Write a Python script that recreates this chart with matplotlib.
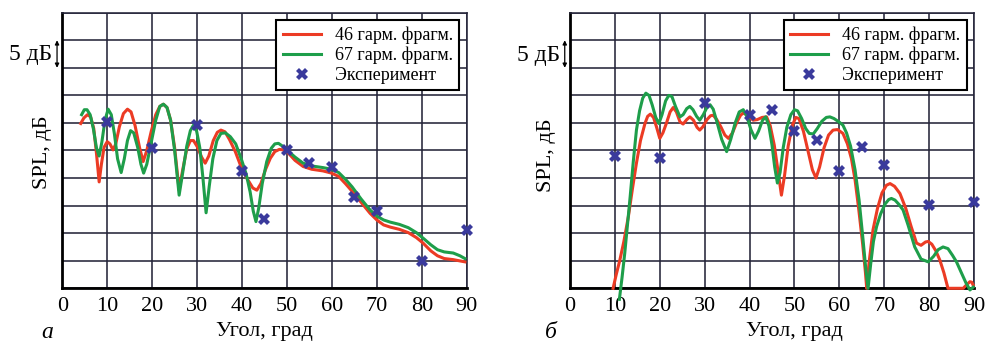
import matplotlib
matplotlib.use("Agg")
import matplotlib.pyplot as plt

# ---------------- data (angle in degrees, SPL in dB relative to bottom of grid) -------------
a_red_x = [4.1, 4.8, 5.6, 6.3, 7.0, 7.6, 8.2, 8.7, 9.3, 10.0, 10.6, 11.3, 11.9, 12.7, 13.6, 14.5,
           15.3, 16.2, 17.2, 18.0, 18.8, 19.8, 20.8, 21.7, 22.5, 23.3, 24.1, 25.0, 26.0, 26.8,
           27.7, 28.5, 29.2, 30.1, 31.0, 31.8, 32.6, 33.6, 34.5, 35.3, 36.2, 37.2, 38.5, 39.9,
           41.2, 42.4, 43.3, 44.2, 45.2, 46.3, 47.3, 48.3, 49.3, 50.0, 51.8, 53.6, 55.5, 58.0,
           59.9, 61.5, 63.0, 64.5, 66.5, 68.5, 70.0, 71.5, 73.0, 75.0, 77.0, 78.8, 80.3, 82.0,
           83.5, 85.0, 87.0, 89.6]
a_red_y = [29.9, 30.9, 31.5, 31.1, 29.0, 24.5, 19.3, 22.5, 25.6, 26.6, 26.2, 25.1, 26.2, 29.3,
           31.7, 32.5, 32.0, 29.5, 25.5, 23.0, 25.0, 28.5, 31.5, 33.0, 33.4, 32.8, 30.5, 25.5,
           17.8, 21.5, 25.3, 26.8, 26.8, 25.6, 23.8, 22.7, 24.0, 26.8, 28.3, 28.7, 28.4, 27.0,
           24.8, 21.8, 19.8, 18.2, 17.8, 19.0, 21.5, 23.6, 24.8, 25.2, 25.1, 24.8, 23.2, 22.1,
           21.6, 21.3, 20.9, 20.3, 19.0, 17.6, 15.6, 13.6, 12.4, 11.5, 11.1, 10.7, 10.1, 9.2,
           8.2, 6.8, 5.9, 5.4, 5.2, 4.8]

a_grn_x = [4.3, 4.9, 5.5, 6.2, 6.9, 7.6, 8.2, 8.8, 9.5, 10.2, 10.9, 11.6, 12.3, 13.1, 13.8, 14.5,
           15.2, 15.9, 16.8, 17.5, 18.1, 18.8, 19.8, 20.8, 21.7, 22.5, 23.3, 24.1, 25.0, 26.0,
           26.8, 27.7, 28.5, 29.2, 29.9, 30.6, 31.3, 32.0, 32.7, 33.5, 34.4, 35.3, 36.3, 37.4,
           38.6, 39.9, 40.9, 41.8, 42.5, 43.1, 43.7, 44.5, 45.5, 46.5, 47.3, 48.1, 49.0, 50.0,
           51.8, 53.6, 55.5, 58.0, 59.9, 61.5, 63.0, 64.5, 66.5, 68.5, 70.0, 71.5, 73.0, 75.0,
           77.0, 78.8, 80.3, 82.0, 83.5, 85.0, 87.0, 88.5, 89.6]
a_grn_y = [31.5, 32.4, 32.4, 31.5, 29.0, 25.5, 24.0, 26.5, 30.5, 32.5, 31.5, 28.0, 23.5, 21.0,
           23.5, 26.8, 28.6, 28.2, 25.5, 22.5, 20.9, 22.5, 26.5, 30.5, 33.0, 33.4, 32.8, 30.5,
           25.0, 16.9, 21.0, 25.8, 28.6, 29.6, 28.5, 25.5, 20.0, 13.7, 18.5, 23.5, 26.8, 28.1,
           28.2, 27.5, 26.2, 23.3, 20.8, 17.5, 14.0, 12.1, 14.5, 19.0, 23.0, 25.4, 26.2, 26.3,
           25.8, 25.1, 23.8, 22.7, 22.2, 21.9, 21.6, 21.0, 19.8, 18.4, 16.2, 14.2, 13.1, 12.4,
           12.0, 11.6, 11.0, 10.1, 9.1, 7.9, 7.0, 6.6, 6.4, 5.9, 5.4]

a_exp_x = [10, 20, 30, 40, 45, 50, 55, 60, 65, 70, 80, 90]
a_exp_y = [30.2, 25.5, 29.6, 21.3, 12.5, 25.0, 22.8, 22.0, 16.5, 14.1, 5.0, 10.5]

b_red_x = [9.6, 10.3, 11.1, 12.0, 13.0, 13.9, 14.8, 15.7, 16.7, 17.3, 17.9, 18.6, 19.3, 20.0,
           20.7, 21.5, 22.3, 23.0, 23.7, 24.5, 25.2, 26.0, 26.7, 27.5, 28.3, 28.9, 29.6, 30.5,
           31.3, 31.9, 32.7, 33.6, 34.5, 35.3, 36.2, 37.2, 38.0, 38.6, 39.6, 40.8, 41.7, 42.8,
           43.8, 44.6, 45.5, 46.3, 47.1, 47.8, 48.6, 49.5, 50.3, 51.0, 52.0, 53.0, 54.0, 54.8,
           55.6, 56.6, 57.6, 58.6, 59.6, 60.8, 61.8, 62.7, 63.5, 64.3, 65.2, 65.8, 66.1, 66.6,
           67.5, 68.5, 69.5, 70.5, 71.3, 72.3, 73.5, 74.8, 76.0, 77.2, 78.2, 79.2, 79.8, 80.6,
           81.5, 82.4, 83.3, 84.2, 87.6, 88.3, 89.1, 89.5, 89.8]
b_red_y = [0.0, 2.5, 5.1, 8.5, 13.0, 18.0, 22.7, 26.8, 29.9, 31.2, 31.6, 31.0, 29.2, 27.2,
           28.2, 30.0, 32.0, 32.8, 32.0, 30.2, 29.8, 30.6, 31.1, 30.5, 29.2, 28.7, 29.3, 30.6,
           31.3, 31.4, 30.6, 29.3, 27.8, 27.2, 28.2, 30.2, 31.4, 31.8, 31.4, 30.5, 30.6, 31.0,
           31.1, 29.5, 26.0, 21.5, 16.9, 20.5, 25.8, 29.5, 31.0, 30.8, 28.5, 25.0, 21.5, 20.0,
           22.0, 25.5, 27.8, 28.7, 28.8, 28.1, 26.2, 23.5, 19.7, 14.5, 8.0, 3.0, 0.0, 4.5,
           10.6, 14.5, 17.3, 18.7, 19.0, 18.5, 17.2, 14.5, 11.2, 8.2, 7.8, 8.4, 8.5, 8.0,
           6.8, 5.1, 2.8, 0.0, 0.0, 0.6, 1.2, 1.1, 0.6]

b_grn_x = [11.0, 11.6, 12.2, 12.8, 13.4, 14.1, 14.8, 15.5, 16.2, 16.9, 17.6, 18.3, 19.1, 19.8,
           20.5, 21.3, 22.0, 22.7, 23.5, 24.5, 25.2, 26.0, 26.7, 27.4, 28.2, 28.9, 29.7, 30.5,
           31.2, 31.9, 32.8, 33.8, 34.9, 35.8, 36.8, 37.7, 38.6, 39.4, 40.3, 41.2, 42.0, 42.9,
           43.6, 44.3, 45.0, 45.6, 46.2, 46.8, 47.5, 48.3, 49.2, 50.0, 50.7, 51.6, 52.5, 53.3,
           54.2, 55.1, 56.1, 57.1, 57.9, 58.8, 59.9, 60.8, 61.6, 62.5, 63.5, 64.4, 65.2, 65.9,
           66.4, 67.0, 67.6, 68.3, 69.2, 70.2, 71.0, 71.6, 72.4, 73.3, 74.2, 75.3, 76.8, 78.2,
           79.8, 81.0, 82.0, 83.1, 84.2, 85.2, 86.1, 87.2, 88.2, 89.1, 89.8]
b_grn_y = [-2.0, 2.0, 6.4, 11.5, 16.6, 23.0, 28.7, 32.2, 34.5, 35.4, 35.0, 33.3, 31.0, 29.9,
           31.5, 34.0, 35.0, 34.8, 33.0, 31.1, 31.5, 32.6, 33.0, 32.4, 31.2, 30.5, 31.5, 32.8,
           33.3, 32.5, 30.0, 27.0, 24.8, 27.0, 30.0, 32.0, 32.4, 31.2, 28.8, 27.2, 28.5, 30.5,
           31.1, 29.5, 26.0, 22.0, 19.1, 21.0, 25.5, 29.2, 31.5, 32.4, 32.2, 30.8, 29.0, 28.1,
           28.0, 29.0, 30.3, 31.0, 31.1, 30.8, 30.2, 29.6, 28.2, 25.8, 21.5, 16.0, 9.5, 3.5,
           0.0, 4.5, 8.5, 11.2, 13.5, 15.3, 16.1, 16.3, 16.0, 15.2, 14.2, 11.5, 7.5, 5.3,
           4.8, 5.8, 7.0, 7.5, 7.2, 6.0, 4.8, 2.8, 1.0, -0.3, 0.2]

b_exp_x = [10, 20, 30, 40, 45, 50, 55, 60, 65, 70, 80, 90]
b_exp_y = [24.0, 23.6, 33.6, 31.5, 32.4, 28.6, 26.9, 21.2, 25.7, 22.4, 15.1, 15.7]

x_ticks = [0, 10, 20, 30, 40, 50, 60, 70, 80, 90]
y_grid = [0, 5, 10, 15, 20, 25, 30, 35, 40, 45, 50]

legend_labels = ["46 гарм. фрагм.", "67 гарм. фрагм.", "Эксперимент"]
xlabel = "Угол, град"
ylabel = "SPL, дБ"
scale_label = "5 дБ"
panel_labels = ["а", "б"]

# ---------------- style ----------------
plt.rcParams['font.family'] = ['Liberation Serif', 'DejaVu Serif']
RED = '#ec3b24'
GREEN = '#1e9e4a'
BLUE = '#3a3a9c'
GRID = '#25253a'

W, H = 985, 343
fig = plt.figure(figsize=(W / 100, H / 100), dpi=100)

def px(x0, y0, x1, y1):
    return [x0 / W, 1 - y1 / H, (x1 - x0) / W, (y1 - y0) / H]

ax_a = fig.add_axes(px(62.3, 12.7, 466.7, 288.3))
ax_b = fig.add_axes(px(570, 12.7, 974, 288.3))

panels = [
    (ax_a, a_red_x, a_red_y, a_grn_x, a_grn_y, a_exp_x, a_exp_y),
    (ax_b, b_red_x, b_red_y, b_grn_x, b_grn_y, b_exp_x, b_exp_y),
]

for ax, rx, ry, gx, gy, ex, ey in panels:
    ax.set_xlim(0, 90)
    ax.set_ylim(0, 50)
    ax.set_xticks(x_ticks)
    ax.set_xticklabels([str(t) for t in x_ticks], fontsize=16)
    ax.set_yticks(y_grid)
    ax.set_yticklabels([])
    ax.tick_params(axis='both', length=0, pad=6)
    ax.grid(True, color=GRID, linewidth=1.15)
    ax.set_axisbelow(True)
    for s in ['left', 'bottom']:
        ax.spines[s].set_linewidth(2.0)
        ax.spines[s].set_color('black')
    for s in ['top', 'right']:
        ax.spines[s].set_linewidth(1.15)
        ax.spines[s].set_color(GRID)
    l1, = ax.plot(rx, ry, color=RED, lw=2.2, clip_on=False, zorder=3,
                  solid_joinstyle='round')
    l2, = ax.plot(gx, gy, color=GREEN, lw=2.2, clip_on=False, zorder=3,
                  solid_joinstyle='round')
    l3, = ax.plot(ex, ey, linestyle='none', marker='X', markersize=9, color=BLUE,
                  markeredgewidth=0, clip_on=False, zorder=4)
    leg = ax.legend([l1, l2, l3], legend_labels, loc='upper right',
                    bbox_to_anchor=(0.982, 0.972), borderaxespad=0, fontsize=13,
                    frameon=True, fancybox=False, framealpha=1, edgecolor='black',
                    handlelength=2.1, handletextpad=0.8, labelspacing=0.15,
                    borderpad=0.35)
    leg.get_frame().set_linewidth(1.5)
    leg.set_zorder(6)
    # 5 dB scale arrow
    ax.annotate('', xy=(-0.013, 45), xytext=(-0.013, 40),
                xycoords=ax.get_yaxis_transform(), textcoords=ax.get_yaxis_transform(),
                arrowprops=dict(arrowstyle='<|-|>', color='black', lw=0.9,
                                mutation_scale=6, shrinkA=0, shrinkB=0),
                annotation_clip=False)

# texts
fig.text(52 / W, 1 - 60 / H, scale_label, ha='right', va='baseline', fontsize=17)
fig.text(560 / W, 1 - 61 / H, scale_label, ha='right', va='baseline', fontsize=17)
fig.text(42 / W, 1 - 152 / H, ylabel, rotation=90, ha='center', va='center', fontsize=16)
fig.text(547 / W, 1 - 155 / H, ylabel, rotation=90, ha='center', va='center', fontsize=16)
fig.text(264.5 / W, 1 - 336 / H, xlabel, ha='center', va='baseline', fontsize=16)
fig.text(794 / W, 1 - 336 / H, xlabel, ha='center', va='baseline', fontsize=16)
fig.text(47 / W, 1 - 338 / H, panel_labels[0], ha='center', va='baseline', fontsize=17, style='italic')
fig.text(551 / W, 1 - 338 / H, panel_labels[1], ha='center', va='baseline', fontsize=17, style='italic')

fig.savefig('out.png', dpi=100, facecolor='white')
